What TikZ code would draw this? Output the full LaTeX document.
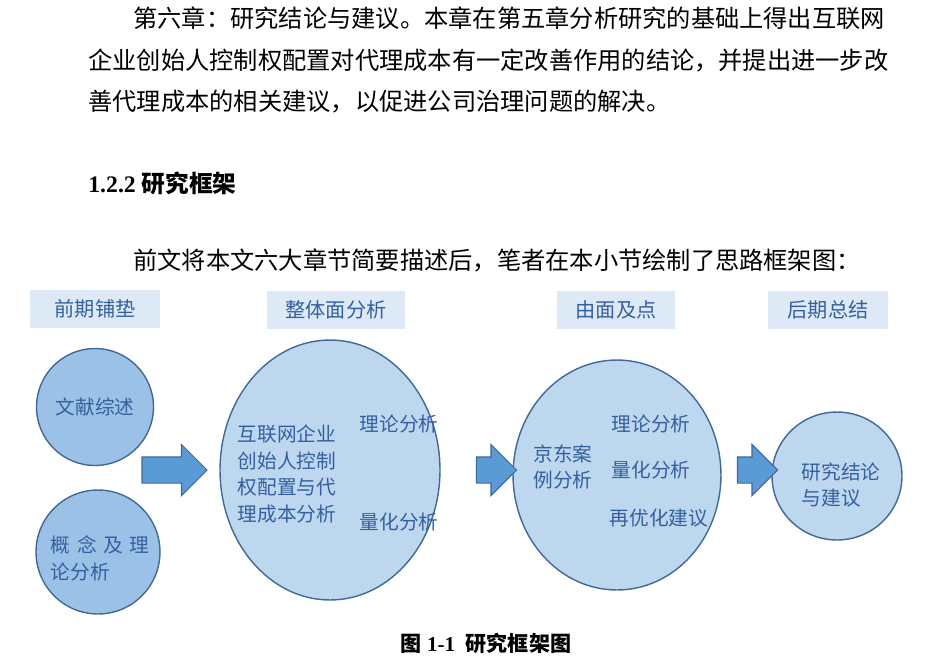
\documentclass[tikz,border=0pt]{standalone}
\usepackage{fontspec}
\setmainfont{Liberation Serif}
\newfontfamily\cjk{Noto Sans CJK SC}
\usetikzlibrary{shapes,arrows,positioning}
\definecolor{txtblue}{RGB}{52,96,160}
\definecolor{edgeblue}{RGB}{65,105,150}
\definecolor{darkcirc}{RGB}{155,194,230}
\definecolor{lightcirc}{RGB}{189,215,238}
\definecolor{tagfill}{RGB}{221,234,246}
\definecolor{arrowfill}{RGB}{91,155,213}

\begin{document}
\begin{tikzpicture}[x=0.02cm, y=-0.02cm, font=\cjk]
    % Define styles
    \tikzstyle{tag} = [rectangle, fill=tagfill, minimum height=0.76cm, text=txtblue, font=\cjk\fontsize{11.5}{13}\selectfont]
    \tikzstyle{bubble} = [ellipse, draw=edgeblue, line width=0.8pt, inner sep=0pt]
    \tikzstyle{words} = [text=txtblue, align=left, font=\cjk\fontsize{11.2}{15.3}\selectfont]
    \tikzstyle{bigarrow} = [single arrow, draw=edgeblue, fill=arrowfill, line width=0.6pt, inner sep=0pt, inner ysep=0.25cm, single arrow head extend=0.25cm, minimum height=1.3cm]
    \tikzstyle{para} = [anchor=west, inner sep=0pt, font=\cjk\fontsize{13.8}{16}\selectfont]

    \useasboundingbox (0,0) rectangle (950,667);

    % Text
    \node[para] (p1) at (133,18) {第六章：研究结论与建议。本章在第五章分析研究的基础上得出互联网};
    \node[para] (p2) at (88,60) {企业创始人控制权配置对代理成本有一定改善作用的结论，并提出进一步改};
    \node[para] (p3) at (88,102) {善代理成本的相关建议，以促进公司治理问题的解决。};
    \node[para, font=\bfseries\fontsize{13.5}{16}\selectfont] (sec) at (88,183) {1.2.2 {\cjk 研究框架}};
    \node[para] (p4) at (133,260) {前文将本文六大章节简要描述后，笔者在本小节绘制了思路框架图：};

    % Tags
    \node[tag, minimum width=2.6cm] (t1) at (95,309) {前期铺垫};
    \node[tag, minimum width=2.78cm] (t2) at (336,310) {整体面分析};
    \node[tag, minimum width=2.38cm] (t3) at (616,310) {由面及点};
    \node[tag, minimum width=2.42cm] (t4) at (828,310) {后期总结};

    % Circles
    \node[bubble, fill=darkcirc, minimum width=2.34cm, minimum height=2.34cm] (lit) at (95,407) {};
    \node[bubble, fill=darkcirc, minimum width=2.48cm, minimum height=2.48cm] (concept) at (98,552) {};
    \node[bubble, fill=lightcirc, minimum width=4.4cm, minimum height=5.2cm] (whole) at (330,470) {};
    \node[bubble, fill=lightcirc, minimum width=4.16cm, minimum height=4.6cm] (jd) at (617,475) {};
    \node[bubble, fill=lightcirc, minimum width=2.6cm, minimum height=2.56cm] (concl) at (837,476) {};

    % Texts in circles
    \node[words] (lit_t) at (lit) {文献综述};
    \node[words] (concept_t) at (100,558) {概\,\,念\,\,及\,\,理\\论分析};
    \node[words] (whole_t) at (287,474) {互联网企业\\创始人控制\\权配置与代\\理成本分析};
    \node[words] (whole_a) at (399,424) {理论分析};
    \node[words] (whole_b) at (399,522) {量化分析};
    \node[words] (jd_t) at (563,467) {京东案\\例分析};
    \node[words] (jd_a) at (651,424) {理论分析};
    \node[words] (jd_b) at (651,470) {量化分析};
    \node[words] (jd_c) at (659,518) {再优化建议};
    \node[words] (concl_t) at (841,485) {研究结论\\与建议};

    % Arrows
    \node[bigarrow] (a1) at (168,470) {};
    \node[bigarrow, minimum height=0.8cm] (a2) at (490,470) {};
    \node[bigarrow, minimum height=0.8cm] (a3) at (751,470) {};

    % Caption
    \node[font=\bfseries\fontsize{12}{14}\selectfont] (cap) at (486,643) {{\cjk 图} 1-1\ \ {\cjk 研究框架图}};
\end{tikzpicture}
\end{document}
